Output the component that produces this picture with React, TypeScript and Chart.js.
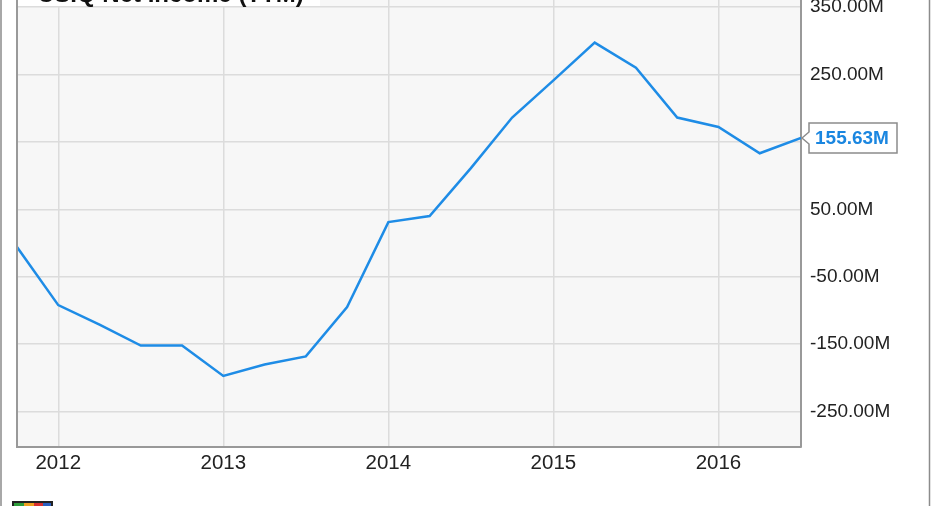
import { useEffect, useRef } from 'react';
import { Chart, registerables } from 'chart.js';

Chart.register(...registerables);

const chartTitle = 'CSIQ Net Income (TTM)';
// quarter ends expressed as decimal years (Q3 2011 .. Q2 2016)
const quarterEnds = [
  2011.75, 2012.0, 2012.25, 2012.5, 2012.75, 2013.0, 2013.25, 2013.5, 2013.75,
  2014.0, 2014.25, 2014.5, 2014.75, 2015.0, 2015.25, 2015.5, 2015.75, 2016.0,
  2016.25, 2016.5,
];
// net income, millions USD
const netIncomeM = [
  -6, -92, -121, -152, -152, -197, -180, -168, -95,
  31, 40, 111, 186, 241, 297, 260, 186, 172,
  133, 155.63,
];
const yTickValues = [-250, -150, -50, 50, 150, 250, 350];
const xTickYears = [2012, 2013, 2014, 2015, 2016];
const lastValueLabel = '155.63M';

const FONT = '"Liberation Sans", Arial, sans-serif';
const LINE_BLUE = '#1e8ce6';

export default function App() {
  const ref = useRef<HTMLCanvasElement>(null);

  useEffect(() => {
    if (!ref.current) return;

    const decor = {
      id: 'decor',
      beforeDraw(chart: any) {
        const { ctx, chartArea: a } = chart;
        ctx.save();
        ctx.fillStyle = '#ffffff';
        ctx.fillRect(0, 0, chart.width, chart.height);
        ctx.fillStyle = '#f7f7f7';
        ctx.fillRect(a.left, a.top, a.right - a.left, a.bottom - a.top);
        ctx.restore();
      },
      afterDraw(chart: any) {
        const { ctx, chartArea: a } = chart;
        ctx.save();
        // outer frame lines
        ctx.strokeStyle = '#8c8c8c';
        ctx.lineWidth = 1.5;
        ctx.beginPath();
        ctx.moveTo(1, 0);
        ctx.lineTo(1, chart.height);
        ctx.moveTo(929.5, 0);
        ctx.lineTo(929.5, chart.height);
        ctx.stroke();
        // plot left border
        ctx.strokeStyle = '#999999';
        ctx.lineWidth = 2;
        ctx.beginPath();
        ctx.moveTo(a.left, a.top);
        ctx.lineTo(a.left, a.bottom + 1);
        ctx.stroke();

        // title box (cropped at top)
        ctx.fillStyle = '#ffffff';
        ctx.fillRect(a.left + 1, 0, 302, 6);
        ctx.fillStyle = '#111111';
        ctx.font = `bold 24px ${FONT}`;
        ctx.textBaseline = 'alphabetic';
        ctx.textAlign = 'left';
        ctx.fillText(chartTitle, 37, 1.5);

        // last value label
        const meta = chart.getDatasetMeta(0);
        const last = meta.data[meta.data.length - 1];
        const py = last.y;
        const bx = a.right + 8;
        const bw = 88;
        const bh = 30;
        ctx.beginPath();
        ctx.moveTo(a.right + 1, py);
        ctx.lineTo(bx, py - 6);
        ctx.lineTo(bx, py - bh / 2);
        ctx.lineTo(bx + bw, py - bh / 2);
        ctx.lineTo(bx + bw, py + bh / 2);
        ctx.lineTo(bx, py + bh / 2);
        ctx.lineTo(bx, py + 6);
        ctx.closePath();
        ctx.fillStyle = '#ffffff';
        ctx.fill();
        ctx.strokeStyle = '#8c8c8c';
        ctx.lineWidth = 1.5;
        ctx.stroke();
        ctx.fillStyle = '#1a86e0';
        ctx.font = `bold 19px ${FONT}`;
        ctx.textBaseline = 'middle';
        ctx.fillText(lastValueLabel, bx + 6, py + 1);

        // small logo at bottom left (cropped)
        const lx = 12, ly = 501;
        ctx.fillStyle = '#222';
        ctx.fillRect(lx, ly, 41, 5);
        ctx.fillStyle = '#2e9d3a';
        ctx.fillRect(lx + 2, ly + 2, 10, 4);
        ctx.fillStyle = '#f0a020';
        ctx.fillRect(lx + 12, ly + 2, 10, 4);
        ctx.fillStyle = '#d83030';
        ctx.fillRect(lx + 22, ly + 2, 9, 4);
        ctx.fillStyle = '#2a5fc0';
        ctx.fillRect(lx + 31, ly + 2, 8, 4);
        ctx.restore();
      },
    };

    const chart = new Chart(ref.current, {
      type: 'line',
      data: {
        datasets: [
          {
            data: quarterEnds.map((x, i) => ({ x, y: netIncomeM[i] })),
            borderColor: LINE_BLUE,
            borderWidth: 2.5,
            pointRadius: 0,
            tension: 0,
            fill: false,
          },
        ],
      },
      options: {
        responsive: false,
        animation: false,
        devicePixelRatio: 1,
        layout: { padding: { left: 17, right: 0, top: 0, bottom: 0 } },
        plugins: { legend: { display: false }, tooltip: { enabled: false } },
        scales: {
          x: {
            type: 'linear',
            min: 2011.75,
            max: 2016.5,
            afterBuildTicks: (s: any) => {
              s.ticks = xTickYears.map((v) => ({ value: v }));
            },
            afterFit: (s: any) => {
              s.height = 59;
              s.paddingLeft = 0;
              s.paddingRight = 0;
            },
            ticks: {
              autoSkip: false,
              maxRotation: 0,
              padding: 4,
              color: '#222',
              font: { family: FONT, size: 20.5 },
              callback: (v: any) => String(v),
            },
            grid: { color: '#dcdcdc', lineWidth: 1.5, drawTicks: false },
            border: { display: true, color: '#999999', width: 2 },
          },
          y: {
            type: 'linear',
            position: 'right',
            min: -302.3,
            max: 360.2,
            afterBuildTicks: (s: any) => {
              s.ticks = yTickValues.map((v) => ({ value: v }));
            },
            afterFit: (s: any) => {
              s.width = 130;
              s.paddingTop = 0;
              s.paddingBottom = 0;
            },
            ticks: {
              autoSkip: false,
              padding: 9,
              color: '#222',
              font: { family: FONT, size: 19 },
              callback: (v: any) => (v === 150 ? '' : Number(v).toFixed(2) + 'M'),
            },
            grid: { color: '#dcdcdc', lineWidth: 1.5, drawTicks: false },
            border: { display: true, color: '#999999', width: 2 },
          },
        },
      },
      plugins: [decor],
    });

    return () => chart.destroy();
  }, []);

  return (
    <div style={{ position: 'absolute', left: 0, top: 0, width: 931, height: 506 }}>
      <canvas ref={ref} width={931} height={506} style={{ display: 'block', width: 931, height: 506 }} />
    </div>
  );
}
